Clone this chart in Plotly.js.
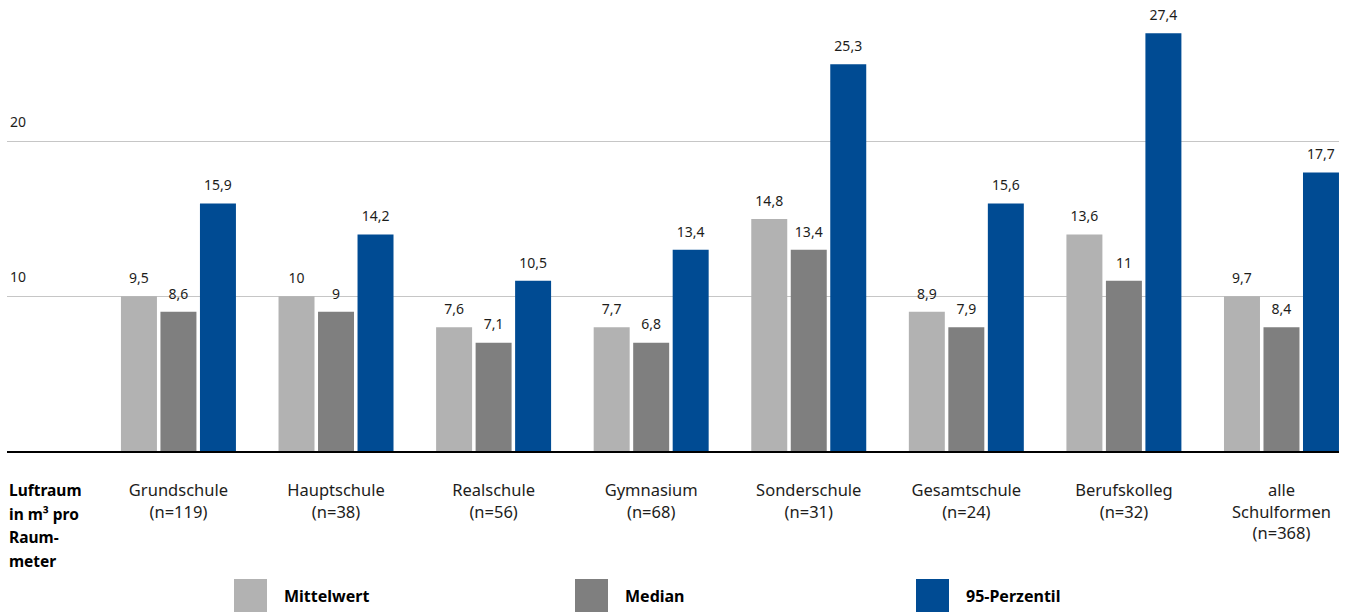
<!DOCTYPE html>
<html><head><meta charset="utf-8">
<script src="https://cdn.plot.ly/plotly-3.0.1.min.js"></script>
<style>html,body{margin:0;padding:0;background:#fff}#chart{width:1348px;height:612px}</style>
</head><body><div id="chart"></div>
<script>
// ---- data ----
const categories = ['Grundschule<br>(n=119)', 'Hauptschule<br>(n=38)', 'Realschule<br>(n=56)', 'Gymnasium<br>(n=68)',
  'Sonderschule<br>(n=31)', 'Gesamtschule<br>(n=24)', 'Berufskolleg<br>(n=32)', 'alle<br>Schulformen<br>(n=368)'];
const seriesNames = ['Mittelwert', 'Median', '95-Perzentil'];
// printed value labels
const mittelwertLabels = [9.5, 10, 7.6, 7.7, 14.8, 8.9, 13.6, 9.7];
const medianLabels = [8.6, 9, 7.1, 6.8, 13.4, 7.9, 11, 8.4];
const p95Labels = [15.9, 14.2, 10.5, 13.4, 25.3, 15.6, 27.4, 17.7];
// bar heights as drawn in the reference
const mittelwertHeights = [10, 10, 8, 8, 15, 9, 14, 10];
const medianHeights = [9, 9, 7, 7, 13, 8, 11, 8];
const p95Heights = [16, 14, 11, 13, 25, 16, 27, 18];
const yTicks = [10, 20];
const yAxisLabel = ['Luftraum', 'in m³ pro', 'Raum-', 'meter'];

// ---- styling ----
const FONT = 'Noto Sans, Open Sans, sans-serif';
const TXT = '#1d1d1b';
const colors = ['#b2b2b2', '#7f7f7f', '#004b93'];
const heights = [mittelwertHeights, medianHeights, p95Heights];
const labels = [mittelwertLabels, medianLabels, p95Labels];
const xIdx = categories.map((c, i) => i);
const fmt = v => String(v).replace('.', ',');

const traces = [];
seriesNames.forEach((name, k) => {
  traces.push({
    type: 'bar', name: name, x: xIdx, y: heights[k], offsetgroup: String(k),
    marker: {color: colors[k], line: {width: 0}}, hoverinfo: 'skip', showlegend: false
  });
});
seriesNames.forEach((name, k) => {
  traces.push({
    type: 'scatter', mode: 'markers+text', name: name + ' label', x: xIdx, y: heights[k], offsetgroup: String(k),
    marker: {size: 14, opacity: 0, color: colors[k]},
    text: labels[k].map(fmt), textposition: 'top center',
    textfont: {family: FONT, size: 14, color: TXT},
    cliponaxis: false, hoverinfo: 'skip', showlegend: false
  });
});

// plot-area geometry helpers (pixel -> paper) for the hand-made legend
const W = 1348, H = 612, ML = 7, MR = 9, MT = 0, MB = 161;
const PW = W - ML - MR, PH = H - MT - MB;
const pxX = x => (x - ML) / PW;
const pxY = y => (H - MB - y) / PH;

const shapes = [];
const annotations = [];
const legendLeft = [234, 575, 916];
seriesNames.forEach((name, k) => {
  shapes.push({type: 'rect', xref: 'paper', yref: 'paper',
    x0: pxX(legendLeft[k]), x1: pxX(legendLeft[k] + 33), y0: pxY(579), y1: pxY(612),
    fillcolor: colors[k], line: {width: 0}});
  annotations.push({xref: 'paper', yref: 'paper', x: pxX(legendLeft[k] + 48), y: pxY(596),
    xanchor: 'left', yanchor: 'middle', showarrow: false,
    text: '<b>' + name + '</b>', font: {family: FONT, size: 16, color: '#000'}});
});
yAxisLabel.forEach((t, i) => {
  annotations.push({xref: 'paper', yref: 'paper', x: 0, y: pxY(490 + i * 23.5),
    xanchor: 'left', yanchor: 'middle', showarrow: false,
    text: '<b>' + t + '</b>', font: {family: FONT, size: 15.5, color: '#000'}});
});

const layout = {
  width: W, height: H,
  margin: {l: ML, r: MR, t: MT, b: MB, pad: 0},
  paper_bgcolor: '#fff', plot_bgcolor: '#fff',
  barmode: 'group', bargap: 0.248, bargroupgap: 0.089,
  scattermode: 'group', scattergap: 0.248,
  hovermode: false,
  font: {family: FONT, color: TXT},
  xaxis: {
    range: [-1.088, 7.365], tickvals: xIdx, ticktext: categories,
    showgrid: false, zeroline: false, ticks: '',
    showline: true, linecolor: '#000', linewidth: 1.5,
    tickfont: {family: FONT, size: 16.5, color: TXT},
    ticklabelstandoff: 24
  },
  yaxis: {
    range: [0, 29.15], tickvals: yTicks, ticktext: yTicks.map(String),
    showgrid: true, gridcolor: '#c6c6c6', gridwidth: 1.5,
    zeroline: false, showline: false, ticks: '',
    ticklabelposition: 'inside', ticklabelshift: -19,
    tickfont: {family: FONT, size: 14, color: TXT}
  },
  shapes: shapes,
  annotations: annotations
};

Plotly.newPlot('chart', traces, layout, {displayModeBar: false, staticPlot: true});
</script>
</body></html>
